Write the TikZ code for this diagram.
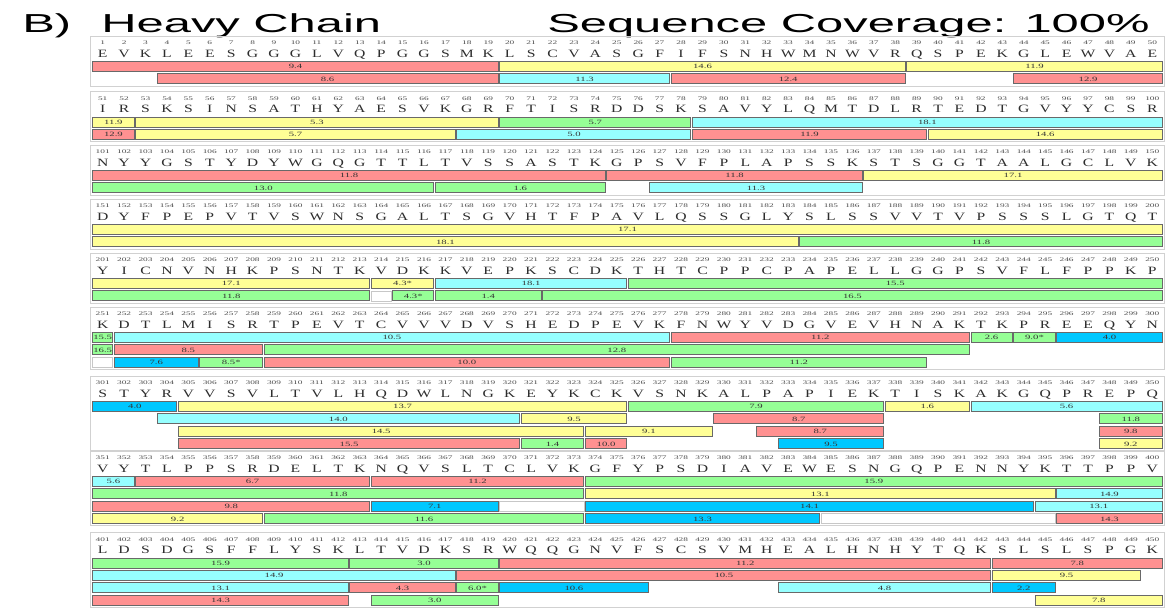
\documentclass[tikz,border=0pt]{standalone}
\usepackage{fontspec}
\setmainfont{Liberation Serif}
\newfontfamily\titlefont{Liberation Sans}
\usetikzlibrary{positioning}
\definecolor{pepred}{RGB}{255,145,145}
\definecolor{pepyellow}{RGB}{255,255,150}
\definecolor{pepcyan}{RGB}{150,255,255}
\definecolor{pepgreen}{RGB}{150,255,150}
\definecolor{pepblue}{RGB}{0,200,255}
\definecolor{barline}{RGB}{105,105,105}
\definecolor{resgray}{RGB}{45,45,45}

% one block of 50 residues: y of numbers, first residue, bar rows, residues
\newcommand{\seqblock}[4]{%
  \def\by{#1}%
  \pgfmathsetmacro{\yb}{#1+30.5+(#3-1)*12.4}
  \draw[blockframe] (90.5,#1-7) rectangle (1164.5,\yb);
  \foreach \aa [count=\i] in {#4} {
    \pgfmathtruncatemacro{\resno}{#2+\i-1}
    \pgfmathsetmacro{\xr}{92+(\i-0.5)*21.42}
    \node[resnum] (n\resno) at (\xr,#1+1.9) {\resno};
    \node[resletter] (r\resno) at (\xr,#1+14.2) {\aa};
  }}
% peptide bar: row, first column, last column, colour, label
\newcommand{\pep}[5]{%
  \pgfmathsetmacro{\xa}{92+(#2-1)*21.42+0.8}
  \pgfmathsetmacro{\xb}{92+#3*21.42-0.8}
  \pgfmathsetmacro{\xm}{(\xa+\xb)/2}
  \pgfmathsetmacro{\yc}{\by+23.5+(#1-1)*12.4}
  \draw[bar,fill=#4] (\xa,\yc-5) rectangle (\xb,\yc+5);
  \node[barlabel] at (\xm,\yc+2.3) {#5};}
\newcommand{\gapbox}[3]{%
  \pgfmathsetmacro{\xa}{92+(#2-1)*21.42+0.8}
  \pgfmathsetmacro{\xb}{92+#3*21.42-0.8}
  \pgfmathsetmacro{\yc}{\by+23.5+(#1-1)*12.4}
  \draw[draw=black!22,fill=white,line width=0.7pt] (\xa,\yc-5) rectangle (\xb,\yc+5);}

\begin{document}
\begin{tikzpicture}[x=1pt,y=-1pt,
  titletext/.style={font=\titlefont\fontsize{26}{26}\selectfont,xscale=1.88,inner sep=0pt},
  resletter/.style={font=\fontsize{11.2}{11.2}\selectfont,text=resgray,xscale=1.4,inner sep=0pt,anchor=base},
  resnum/.style={font=\fontsize{5.5}{5.5}\selectfont,text=resgray!85,xscale=1.7,inner sep=0pt,anchor=base},
  barlabel/.style={font=\fontsize{6.5}{6.5}\selectfont,text=black!80,xscale=1.65,inner sep=0pt,anchor=base},
  bar/.style={draw=barline,line width=1pt},
  blockframe/.style={draw=black!18,line width=0.7pt}]
  \useasboundingbox[fill=white] (0,0) rectangle (1166,613);

  \node[titletext,anchor=base west] (panel) at (22,32) {B)};
  \node[titletext,anchor=base west] (chain) at (101,32) {Heavy Chain};
  \node[titletext,anchor=base east] (coverage) at (1150,32) {Sequence Coverage: 100\%};

  % 1-50
  \seqblock{43}{1}{2}{E,V,K,L,E,E,S,G,G,G,L,V,Q,P,G,G,S,M,K,L,S,C,V,A,S,G,F,I,F,S,N,H,W,M,N,W,V,R,Q,S,P,E,K,G,L,E,W,V,A,E}
  \pep{1}{1}{19}{pepred}{9.4}
  \pep{1}{20}{38}{pepyellow}{14.6}
  \pep{1}{39}{50}{pepyellow}{11.9}
  \pep{2}{4}{19}{pepred}{8.6}
  \pep{2}{20}{27}{pepcyan}{11.3}
  \pep{2}{28}{38}{pepred}{12.4}
  \pep{2}{44}{50}{pepred}{12.9}

  % 51-100
  \seqblock{98.5}{51}{2}{I,R,S,K,S,I,N,S,A,T,H,Y,A,E,S,V,K,G,R,F,T,I,S,R,D,D,S,K,S,A,V,Y,L,Q,M,T,D,L,R,T,E,D,T,G,V,Y,Y,C,S,R}
  \pep{1}{1}{2}{pepyellow}{11.9}
  \pep{1}{3}{19}{pepyellow}{5.3}
  \pep{1}{20}{28}{pepgreen}{5.7}
  \pep{1}{29}{50}{pepcyan}{18.1}
  \pep{2}{1}{2}{pepred}{12.9}
  \pep{2}{3}{17}{pepyellow}{5.7}
  \pep{2}{18}{28}{pepcyan}{5.0}
  \pep{2}{29}{39}{pepred}{11.9}
  \pep{2}{40}{50}{pepyellow}{14.6}

  % 101-150
  \seqblock{152}{101}{2}{N,Y,Y,G,S,T,Y,D,Y,W,G,Q,G,T,T,L,T,V,S,S,A,S,T,K,G,P,S,V,F,P,L,A,P,S,S,K,S,T,S,G,G,T,A,A,L,G,C,L,V,K}
  \pep{1}{1}{24}{pepred}{11.8}
  \pep{1}{25}{36}{pepred}{11.8}
  \pep{1}{37}{50}{pepyellow}{17.1}
  \pep{2}{1}{16}{pepgreen}{13.0}
  \pep{2}{17}{24}{pepgreen}{1.6}
  \pep{2}{27}{36}{pepcyan}{11.3}

  % 151-200
  \seqblock{206}{151}{2}{D,Y,F,P,E,P,V,T,V,S,W,N,S,G,A,L,T,S,G,V,H,T,F,P,A,V,L,Q,S,S,G,L,Y,S,L,S,S,V,V,T,V,P,S,S,S,L,G,T,Q,T}
  \pep{1}{1}{50}{pepyellow}{17.1}
  \pep{2}{1}{33}{pepyellow}{18.1}
  \pep{2}{34}{50}{pepgreen}{11.8}

  % 201-250
  \seqblock{260}{201}{2}{Y,I,C,N,V,N,H,K,P,S,N,T,K,V,D,K,K,V,E,P,K,S,C,D,K,T,H,T,C,P,P,C,P,A,P,E,L,L,G,G,P,S,V,F,L,F,P,P,K,P}
  \pep{1}{1}{13}{pepyellow}{17.1}
  \pep{1}{14}{16}{pepyellow}{4.3*}
  \pep{1}{17}{25}{pepcyan}{18.1}
  \pep{1}{26}{50}{pepgreen}{15.5}
  \pep{2}{1}{13}{pepgreen}{11.8}
  \gapbox{2}{14}{14}
  \pep{2}{15}{16}{pepgreen}{4.3*}
  \pep{2}{17}{21}{pepgreen}{1.4}
  \pep{2}{22}{50}{pepgreen}{16.5}

  % 251-300
  \seqblock{314}{251}{3}{K,D,T,L,M,I,S,R,T,P,E,V,T,C,V,V,V,D,V,S,H,E,D,P,E,V,K,F,N,W,Y,V,D,G,V,E,V,H,N,A,K,T,K,P,R,E,E,Q,Y,N}
  \pep{1}{1}{1}{pepgreen}{15.5}
  \pep{1}{2}{27}{pepcyan}{10.5}
  \pep{1}{28}{41}{pepred}{11.2}
  \pep{1}{42}{43}{pepgreen}{2.6}
  \pep{1}{44}{45}{pepgreen}{9.0*}
  \pep{1}{46}{50}{pepblue}{4.0}
  \pep{2}{1}{1}{pepgreen}{16.5}
  \pep{2}{2}{8}{pepred}{8.5}
  \pep{2}{9}{41}{pepgreen}{12.8}
  \gapbox{3}{1}{1}
  \pep{3}{2}{5}{pepblue}{7.6}
  \pep{3}{6}{8}{pepgreen}{8.5*}
  \pep{3}{9}{27}{pepred}{10.0}
  \pep{3}{28}{39}{pepgreen}{11.2}

  % 301-350
  \seqblock{383}{301}{4}{S,T,Y,R,V,V,S,V,L,T,V,L,H,Q,D,W,L,N,G,K,E,Y,K,C,K,V,S,N,K,A,L,P,A,P,I,E,K,T,I,S,K,A,K,G,Q,P,R,E,P,Q}
  \pep{1}{1}{4}{pepblue}{4.0}
  \pep{1}{5}{25}{pepyellow}{13.7}
  \pep{1}{26}{37}{pepgreen}{7.9}
  \pep{1}{38}{41}{pepyellow}{1.6}
  \pep{1}{42}{50}{pepcyan}{5.6}
  \pep{2}{4}{20}{pepcyan}{14.0}
  \pep{2}{21}{25}{pepyellow}{9.5}
  \pep{2}{30}{37}{pepred}{8.7}
  \pep{2}{48}{50}{pepgreen}{11.8}
  \pep{3}{5}{23}{pepyellow}{14.5}
  \pep{3}{24}{29}{pepyellow}{9.1}
  \pep{3}{32}{37}{pepred}{8.7}
  \pep{3}{48}{50}{pepred}{9.8}
  \pep{4}{5}{20}{pepred}{15.5}
  \pep{4}{21}{23}{pepgreen}{1.4}
  \pep{4}{24}{25}{pepred}{10.0}
  \pep{4}{33}{37}{pepblue}{9.5}
  \pep{4}{48}{50}{pepyellow}{9.2}

  % 351-400
  \seqblock{458}{351}{4}{V,Y,T,L,P,P,S,R,D,E,L,T,K,N,Q,V,S,L,T,C,L,V,K,G,F,Y,P,S,D,I,A,V,E,W,E,S,N,G,Q,P,E,N,N,Y,K,T,T,P,P,V}
  \pep{1}{1}{2}{pepcyan}{5.6}
  \pep{1}{3}{13}{pepred}{6.7}
  \pep{1}{14}{23}{pepred}{11.2}
  \pep{1}{24}{50}{pepgreen}{15.9}
  \pep{2}{1}{23}{pepgreen}{11.8}
  \pep{2}{24}{45}{pepyellow}{13.1}
  \pep{2}{46}{50}{pepcyan}{14.9}
  \pep{3}{1}{13}{pepred}{9.8}
  \pep{3}{14}{19}{pepblue}{7.1}
  \gapbox{3}{20}{23}
  \pep{3}{24}{44}{pepblue}{14.1}
  \pep{3}{45}{50}{pepcyan}{13.1}
  \pep{4}{1}{8}{pepyellow}{9.2}
  \pep{4}{9}{23}{pepgreen}{11.6}
  \pep{4}{24}{34}{pepblue}{13.3}
  \gapbox{4}{35}{45}
  \pep{4}{46}{50}{pepred}{14.3}

  % 401-450
  \seqblock{539.5}{401}{4}{L,D,S,D,G,S,F,F,L,Y,S,K,L,T,V,D,K,S,R,W,Q,Q,G,N,V,F,S,C,S,V,M,H,E,A,L,H,N,H,Y,T,Q,K,S,L,S,L,S,P,G,K}
  \pep{1}{1}{12}{pepgreen}{15.9}
  \pep{1}{13}{19}{pepgreen}{3.0}
  \pep{1}{20}{42}{pepred}{11.2}
  \pep{1}{43}{50}{pepred}{7.8}
  \pep{2}{1}{17}{pepcyan}{14.9}
  \pep{2}{18}{42}{pepred}{10.5}
  \pep{2}{43}{49}{pepyellow}{9.5}
  \pep{3}{1}{12}{pepcyan}{13.1}
  \pep{3}{13}{17}{pepred}{4.3}
  \pep{3}{18}{19}{pepgreen}{6.0*}
  \pep{3}{20}{26}{pepblue}{10.6}
  \pep{3}{33}{42}{pepcyan}{4.8}
  \pep{3}{43}{45}{pepblue}{2.2}
  \pep{4}{1}{12}{pepred}{14.3}
  \pep{4}{14}{19}{pepgreen}{3.0}
  \pep{4}{45}{50}{pepyellow}{7.8}
\end{tikzpicture}
\end{document}
